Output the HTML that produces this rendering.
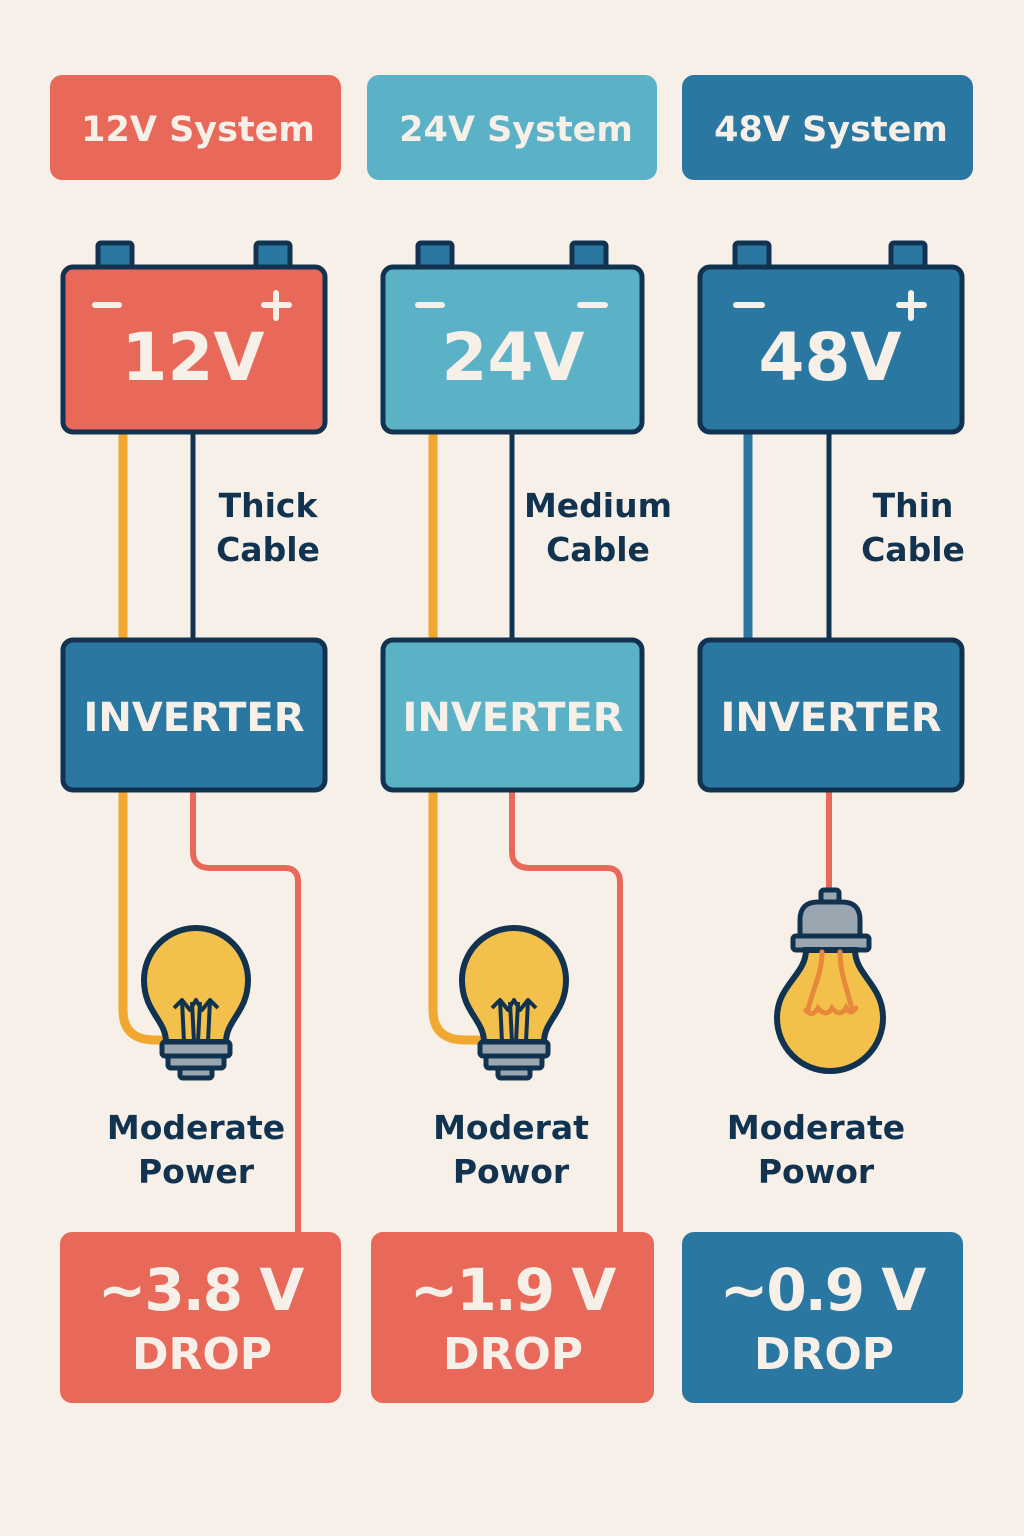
<!DOCTYPE html>
<html><head><meta charset="utf-8"><style>
html,body{margin:0;padding:0;background:#f6f0e8}
svg{display:block}
text{font-family:"DejaVu Sans","Liberation Sans",sans-serif;font-weight:bold}
</style></head><body>
<svg width="1024" height="1536" viewBox="0 0 1024 1536" xmlns="http://www.w3.org/2000/svg">
<rect width="1024" height="1536" fill="#f6f0e8"/>
<defs>
<g id="bulb">
 <path d="M-30,42 C-30,20 -52,12 -52,-20 A52,52 0 1 1 52,-20 C52,12 30,20 30,42 Z" fill="#f4c04c" stroke="#12334f" stroke-width="6"/>
 <path d="M-12,42 L-14,0 M12,42 L14,0 M-2,42 L-4,2 M2,42 L4,2 M-22,8 L-14,0 L-6,10 L0,0 L6,10 L14,0 L22,8" fill="none" stroke="#12334f" stroke-width="4" stroke-linejoin="round"/>
 <rect x="-34" y="42" width="68" height="14" rx="3" fill="#9aa7b0" stroke="#12334f" stroke-width="5"/>
 <rect x="-28" y="56" width="56" height="12" rx="3" fill="#9aa7b0" stroke="#12334f" stroke-width="5"/>
 <rect x="-16" y="68" width="32" height="10" rx="3" fill="#9aa7b0" stroke="#12334f" stroke-width="5"/>
</g>
</defs>

<rect x="50" y="75" width="291" height="105" rx="12" fill="#e8695a"/>
<rect x="367" y="75" width="290" height="105" rx="12" fill="#5bb1c6"/>
<rect x="682" y="75" width="291" height="105" rx="12" fill="#2a77a1"/>
<g fill="#f6f0e8" font-size="35" text-anchor="middle">
<text x="198" y="141">12V System</text>
<text x="516" y="141">24V System</text>
<text x="831" y="141">48V System</text>
</g>

<line x1="123" y1="432" x2="123" y2="640" stroke="#f0a830" stroke-width="9"/>
<line x1="193" y1="432" x2="193" y2="640" stroke="#12334f" stroke-width="5"/>
<line x1="433" y1="432" x2="433" y2="640" stroke="#f0a830" stroke-width="9"/>
<line x1="512" y1="432" x2="512" y2="640" stroke="#12334f" stroke-width="5"/>
<line x1="748" y1="432" x2="748" y2="640" stroke="#2a77a1" stroke-width="9"/>
<line x1="829" y1="432" x2="829" y2="640" stroke="#12334f" stroke-width="5"/>

<path d="M123,790 V1010 Q123,1040 155,1040 H170" fill="none" stroke="#f0a830" stroke-width="9"/>
<path d="M193,790 V852 Q193,868 210,868 H285 Q298,868 298,882 V1232" fill="none" stroke="#e8695a" stroke-width="6"/>
<path d="M433,790 V1010 Q433,1040 465,1040 H490" fill="none" stroke="#f0a830" stroke-width="9"/>
<path d="M512,790 V852 Q512,868 530,868 H607 Q620,868 620,882 V1232" fill="none" stroke="#e8695a" stroke-width="6"/>
<line x1="829" y1="790" x2="829" y2="892" stroke="#e8695a" stroke-width="6"/>

<g stroke="#12334f" stroke-width="5">
<rect x="98" y="243" width="34" height="26" rx="3" fill="#2a77a1"/>
<rect x="256" y="243" width="34" height="26" rx="3" fill="#2a77a1"/>
<rect x="63" y="267" width="262" height="165" rx="10" fill="#e8695a"/>
<rect x="418" y="243" width="34" height="26" rx="3" fill="#2a77a1"/>
<rect x="572" y="243" width="34" height="26" rx="3" fill="#2a77a1"/>
<rect x="383" y="267" width="259" height="165" rx="10" fill="#5bb1c6"/>
<rect x="735" y="243" width="34" height="26" rx="3" fill="#2a77a1"/>
<rect x="891" y="243" width="34" height="26" rx="3" fill="#2a77a1"/>
<rect x="700" y="267" width="262" height="165" rx="10" fill="#2a77a1"/>
</g>
<g stroke="#f6f0e8" stroke-width="6" stroke-linecap="round">
<line x1="95" y1="305" x2="119" y2="305"/>
<line x1="264" y1="305" x2="289" y2="305"/><line x1="276" y1="293" x2="276" y2="318"/>
<line x1="418" y1="305" x2="442" y2="305"/>
<line x1="580" y1="305" x2="605" y2="305"/>
<line x1="736" y1="305" x2="762" y2="305"/>
<line x1="899" y1="305" x2="924" y2="305"/><line x1="911" y1="293" x2="911" y2="318"/>
</g>
<g fill="#f6f0e8" font-size="66" text-anchor="middle">
<text x="193" y="380">12V</text>
<text x="513" y="380">24V</text>
<text x="830" y="380">48V</text>
</g>

<g fill="#12334f" font-size="33" text-anchor="middle">
<text x="268" y="517">Thick</text><text x="268" y="561">Cable</text>
<text x="598" y="517">Medium</text><text x="598" y="561">Cable</text>
<text x="913" y="517">Thin</text><text x="913" y="561">Cable</text>
</g>

<g stroke="#12334f" stroke-width="5">
<rect x="63" y="640" width="262" height="150" rx="10" fill="#2a77a1"/>
<rect x="383" y="640" width="259" height="150" rx="10" fill="#5bb1c6"/>
<rect x="700" y="640" width="262" height="150" rx="10" fill="#2a77a1"/>
</g>
<g fill="#f6f0e8" font-size="40" text-anchor="middle">
<text x="194" y="731">INVERTER</text>
<text x="513" y="731">INVERTER</text>
<text x="831" y="731">INVERTER</text>
</g>

<use href="#bulb" x="196" y="1000"/>
<use href="#bulb" x="514" y="1000"/>
<g>
 <rect x="821" y="890" width="18" height="12" rx="3" fill="#9aa7b0" stroke="#12334f" stroke-width="5"/>
 <path d="M800,937 V920 Q800,902 818,902 H842 Q860,902 860,920 V937 Z" fill="#9aa7b0" stroke="#12334f" stroke-width="5"/>
 <rect x="793" y="936" width="76" height="14" rx="3" fill="#9aa7b0" stroke="#12334f" stroke-width="5"/>
 <path d="M806,950 C806,975 777,985 777,1018 A53,53 0 0 0 883,1018 C883,985 855,975 855,950 Z" fill="#f4c04c" stroke="#12334f" stroke-width="6"/>
 <path d="M822,952 C822,975 812,990 808,1010 M840,952 C840,975 848,990 852,1010 M806,1010 Q812,1018 818,1008 Q826,1018 832,1008 Q840,1018 846,1008 Q850,1016 856,1008" fill="none" stroke="#e8883a" stroke-width="5" stroke-linecap="round"/>
</g>

<g fill="#12334f" font-size="33" text-anchor="middle">
<text x="196" y="1139">Moderate</text><text x="196" y="1183">Power</text>
<text x="511" y="1139">Moderat</text><text x="511" y="1183">Powor</text>
<text x="816" y="1139">Moderate</text><text x="816" y="1183">Powor</text>
</g>

<rect x="60" y="1232" width="281" height="171" rx="12" fill="#e8695a"/>
<rect x="371" y="1232" width="283" height="171" rx="12" fill="#e8695a"/>
<rect x="682" y="1232" width="281" height="171" rx="12" fill="#2a77a1"/>
<g fill="#f6f0e8" text-anchor="middle">
<text x="200" y="1310" font-size="58" letter-spacing="-2">~3.8 V</text>
<text x="202" y="1369" font-size="44">DROP</text>
<text x="512" y="1310" font-size="58" letter-spacing="-2">~1.9 V</text>
<text x="513" y="1369" font-size="44">DROP</text>
<text x="822" y="1310" font-size="58" letter-spacing="-2">~0.9 V</text>
<text x="824" y="1369" font-size="44">DROP</text>
</g>
</svg>
</body></html>
